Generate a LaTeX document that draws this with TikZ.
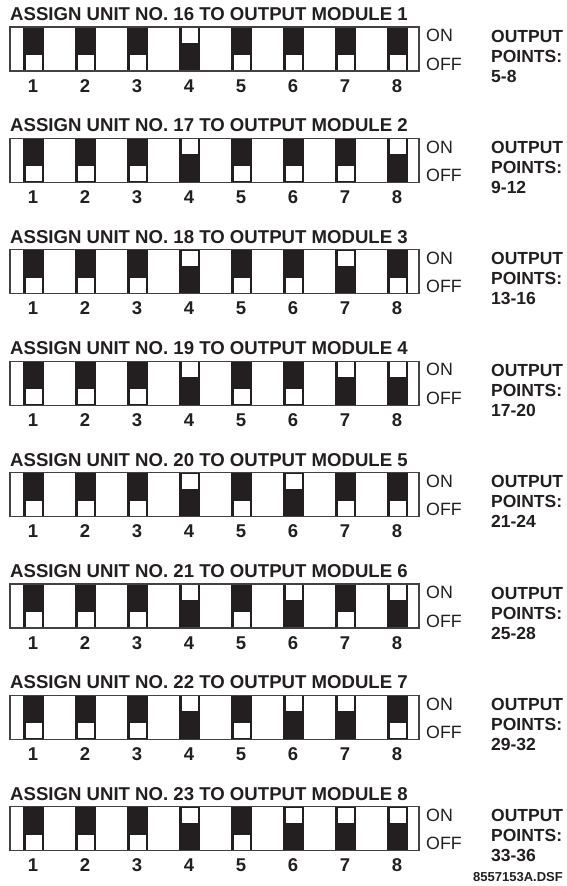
\documentclass[tikz,border=0pt]{standalone}
\usepackage{fontspec}
\setmainfont{Liberation Sans}
\definecolor{swblack}{HTML}{231F20}

\begin{document}
\begin{tikzpicture}[x=1pt,y=-1pt,
    every node/.style={inner sep=0pt,text=swblack},
    title/.style={font=\fontsize{18.6}{20}\selectfont\bfseries,anchor=west},
    onoff/.style={font=\fontsize{17.8}{20}\selectfont,anchor=west},
    swnum/.style={font=\fontsize{18.5}{20}\selectfont\bfseries},
    points/.style={font=\fontsize{17.5}{20}\selectfont\bfseries,anchor=west},
    swbody/.style={fill=swblack},
    swknob/.style={fill=white},
    swframe/.style={draw=swblack!85,line width=1.2pt}]
  \useasboundingbox (0,0) rectangle (566,886);
  \foreach \m in {1,...,8}{
    \pgfmathsetmacro\y{27+111.4*(\m-1)}
    \pgfmathtruncatemacro\unit{15+\m}
    \pgfmathtruncatemacro\pa{4*\m+1}
    \pgfmathtruncatemacro\pb{4*\m+4}
    \node[title] (title\m) at (10,\y-13) {ASSIGN UNIT NO. \unit\ TO OUTPUT MODULE \m};
    % dip switches, ON when the bit of the unit number is set
    \foreach \i in {1,...,8}{
      \pgfmathsetmacro\x{23+52*(\i-1)}
      \pgfmathtruncatemacro\on{mod(floor(\unit/2^(8-\i)),2)}
      \fill[swbody] (\x,\y) rectangle ++(21,44);
      \ifnum\on=1
        \fill[swknob] (\x+2.5,\y+1) rectangle ++(16,15);
      \else
        \fill[swknob] (\x+2.5,\y+28) rectangle ++(16,15);
      \fi
      \node[swnum,anchor=base] (num\m-\i) at (\x+10,\y+65) {\i};
    }
    \draw[swframe] (10,\y) rectangle (419,\y+44);
    \node[onoff] (on\m) at (426,\y+8.5) {ON};
    \node[onoff] (off\m) at (426,\y+37) {OFF};
    % output points
    \node[points] (out\m) at (491,\y+9) {OUTPUT};
    \node[points] (pts\m) at (491,\y+29) {POINTS:};
    \node[points] (range\m) at (491,\y+49) {\pa-\pb};
  }
  \node[anchor=north west,font=\fontsize{13}{14}\selectfont\bfseries] (file) at (473,872) {8557153A.DSF};
\end{tikzpicture}
\end{document}
